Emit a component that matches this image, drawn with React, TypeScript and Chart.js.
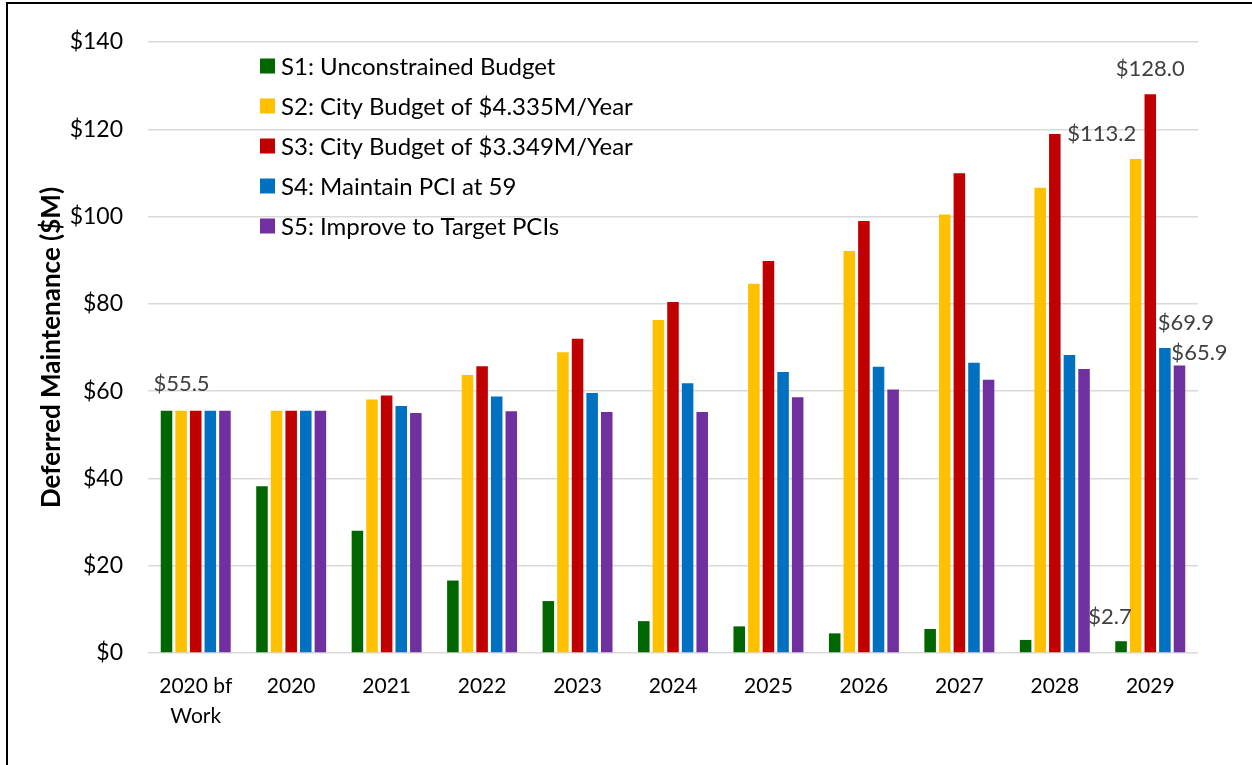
import React, { useEffect, useRef } from "react";
import { Chart, registerables } from "chart.js";

Chart.register(...registerables);

const categories: (string | string[])[] = [
  ["2020 bf", "Work"], "2020", "2021", "2022", "2023", "2024", "2025", "2026", "2027", "2028", "2029",
];
const seriesNames = [
  "S1: Unconstrained Budget",
  "S2: City Budget of $4.335M/Year",
  "S3: City Budget of $3.349M/Year",
  "S4: Maintain PCI at 59",
  "S5: Improve to Target PCIs",
];
const s1 = [55.5, 38.2, 28.0, 16.6, 11.9, 7.3, 6.1, 4.5, 5.5, 3.0, 2.7];
const s2 = [55.5, 55.5, 58.1, 63.7, 68.9, 76.3, 84.6, 92.1, 100.5, 106.6, 113.2];
const s3 = [55.5, 55.5, 59.0, 65.7, 72.0, 80.4, 89.8, 99.0, 109.9, 118.9, 128.0];
const s4 = [55.5, 55.5, 56.6, 58.8, 59.6, 61.8, 64.4, 65.6, 66.5, 68.3, 69.9];
const s5 = [55.5, 55.5, 55.0, 55.4, 55.2, 55.2, 58.6, 60.4, 62.6, 65.1, 65.9];
const colors = ["#006600", "#FFC000", "#C00000", "#0070C0", "#7030A0"];
const yTicks = [0, 20, 40, 60, 80, 100, 120, 140];

// data labels: which bar, and offset of label centre from the bar top centre
const labelSpecs = [
  { ds: 0, idx: 0, dx: 15, dy: -27 },
  { ds: 0, idx: 10, dx: -11, dy: -24 },
  { ds: 1, idx: 10, dx: -34, dy: -25 },
  { ds: 2, idx: 10, dx: 0, dy: -25 },
  { ds: 3, idx: 10, dx: 21, dy: -25 },
  { ds: 4, idx: 10, dx: 20, dy: -12 },
];

const FONT = "Lato, 'Open Sans', sans-serif";

const framePlugin = {
  id: "frame",
  beforeDraw(chart: any) {
    const ctx = chart.ctx;
    ctx.save();
    ctx.fillStyle = "#ffffff";
    ctx.fillRect(0, 0, chart.width, chart.height);
    ctx.fillStyle = "#000000";
    ctx.fillRect(6, 2, 2, chart.height);
    ctx.fillRect(6, 2, chart.width, 2);
    ctx.restore();
  },
};

const legendPlugin = {
  id: "innerLegend",
  afterDraw(chart: any) {
    const ctx = chart.ctx;
    ctx.save();
    ctx.font = `24px ${FONT}`;
    ctx.textBaseline = "middle";
    ctx.textAlign = "left";
    chart.data.datasets.forEach((ds: any, i: number) => {
      const cy = 66 + 40 * i;
      ctx.fillStyle = ds.backgroundColor;
      ctx.fillRect(260, cy - 7.5, 15, 15);
      ctx.fillStyle = "#000000";
      ctx.fillText(ds.label, 281, cy + 1);
    });
    ctx.restore();
  },
};

const valueLabelPlugin = {
  id: "valueLabels",
  afterDatasetsDraw(chart: any) {
    const ctx = chart.ctx;
    ctx.save();
    ctx.font = `22px ${FONT}`;
    ctx.fillStyle = "#404040";
    ctx.textAlign = "center";
    ctx.textBaseline = "middle";
    labelSpecs.forEach((s) => {
      const el = chart.getDatasetMeta(s.ds).data[s.idx];
      const v = chart.data.datasets[s.ds].data[s.idx];
      ctx.fillText("$" + Number(v).toFixed(1), el.x + s.dx, el.y + s.dy);
    });
    ctx.restore();
  },
};

export default function App() {
  const ref = useRef<HTMLCanvasElement | null>(null);
  useEffect(() => {
    if (!ref.current) return;
    const all = [s1, s2, s3, s4, s5];
    const chart = new Chart(ref.current, {
      type: "bar",
      data: {
        labels: categories as any,
        datasets: all.map((d, i) => ({
          label: seriesNames[i],
          data: d,
          backgroundColor: colors[i],
          borderWidth: 0,
          categoryPercentage: 0.765,
          barPercentage: 0.79,
        })),
      },
      options: {
        animation: false,
        responsive: false,
        devicePixelRatio: 1,
        layout: { padding: { top: 42, right: 54, left: 0, bottom: 0 } },
        plugins: { legend: { display: false }, tooltip: { enabled: false } },
        scales: {
          x: {
            grid: { display: false },
            border: { display: false },
            ticks: {
              color: "#000000",
              font: { family: FONT, size: 21, lineHeight: 1.4 },
              padding: 11,
              maxRotation: 0,
              autoSkip: false,
            },
            afterFit: (s: any) => { s.height = 112; },
          },
          y: {
            min: 0,
            max: 140,
            afterBuildTicks: (s: any) => { s.ticks = yTicks.map((v) => ({ value: v })); },
            grid: { color: "#d9d9d9", lineWidth: 1.5, drawTicks: false },
            border: { display: false },
            ticks: {
              color: "#000000",
              font: { family: FONT, size: 23 },
              padding: 25,
              callback: (v: any) => "$" + v,
            },
            title: {
              display: true,
              text: "Deferred Maintenance ($M)",
              color: "#000000",
              font: { family: FONT, size: 26, weight: "bold", lineHeight: 1.2 },
              padding: { top: 36, bottom: 0 },
            },
            afterFit: (s: any) => { s.width = 148; },
          },
        },
      },
      plugins: [framePlugin, legendPlugin, valueLabelPlugin],
    });
    return () => chart.destroy();
  }, []);
  return (
    <div style={{ position: "fixed", left: 0, top: 0, width: 1252, height: 765 }}>
      <canvas ref={ref} width={1252} height={765} style={{ display: "block" }} />
    </div>
  );
}
